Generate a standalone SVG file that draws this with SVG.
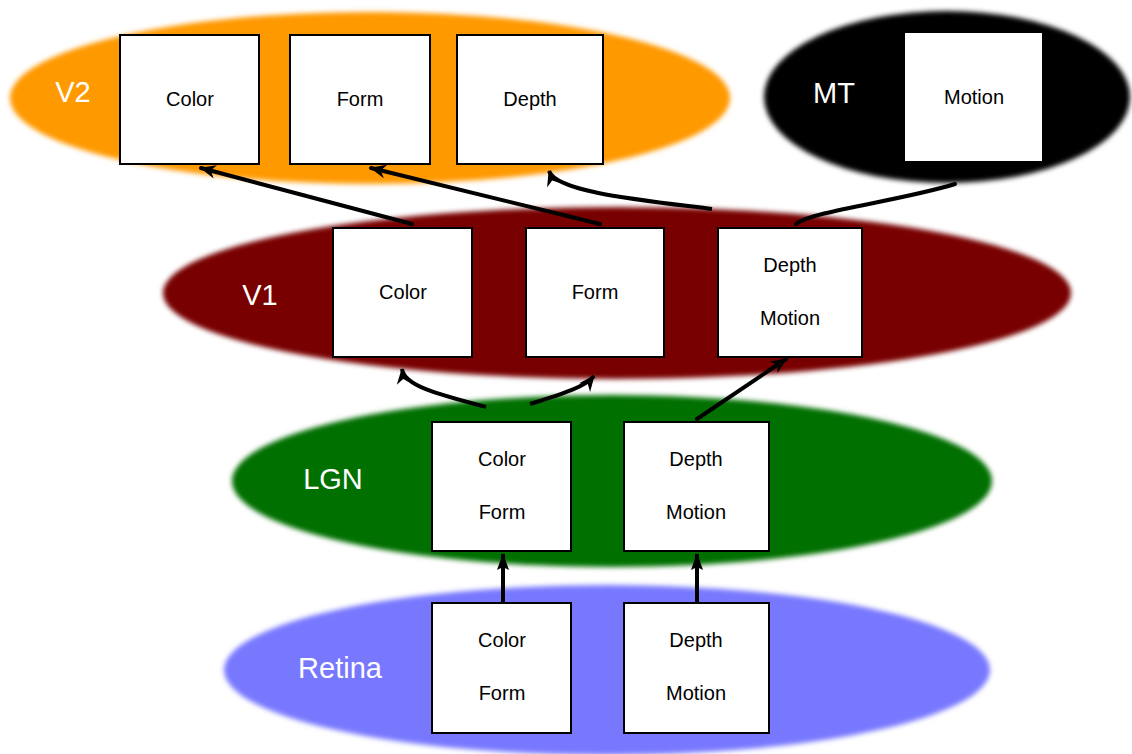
<svg xmlns="http://www.w3.org/2000/svg" width="1132" height="754" viewBox="0 0 1132 754">
<style>
.box{fill:#fff;stroke:#000;stroke-width:2}
.bt{font-family:"Liberation Sans",Arial,sans-serif;font-size:20px;fill:#000;text-anchor:middle}
.lbl{font-family:"Liberation Sans",Arial,sans-serif;font-size:29px;fill:#fff;text-anchor:middle}
.ln{fill:none;stroke:#000;stroke-width:4;stroke-linecap:round}
.ar{marker-end:url(#stealth)}
.af{marker-end:url(#tri)}
</style>
<defs>
<filter id="soft" x="-5%" y="-10%" width="110%" height="120%"><feGaussianBlur stdDeviation="2.5"/></filter>
<marker id="stealth" markerUnits="userSpaceOnUse" markerWidth="18" markerHeight="14" refX="15" refY="7" orient="auto"><path d="M0,0 L16,7 L0,14 L5,7 z" fill="#000"/></marker>
<marker id="tri" markerUnits="userSpaceOnUse" markerWidth="18" markerHeight="12" refX="16" refY="6" orient="auto"><path d="M0,0 L17,6 L0,12 L3,6 z" fill="#000"/></marker>
</defs>
<g id="area-v2"><ellipse cx="370" cy="98" rx="360" ry="86" fill="#ff9900" filter="url(#soft)"/><text class="lbl" x="73" y="102">V2</text></g>
<g id="area-mt"><ellipse cx="947" cy="97" rx="183" ry="86" fill="#000" filter="url(#soft)"/><text class="lbl" x="834" y="103">MT</text></g>
<g id="area-v1"><ellipse cx="617" cy="293" rx="454" ry="86" fill="#780000" filter="url(#soft)"/><text class="lbl" x="260" y="305">V1</text></g>
<g id="area-lgn"><ellipse cx="612" cy="481" rx="380" ry="86" fill="#007000" filter="url(#soft)"/><text class="lbl" x="333" y="489">LGN</text></g>
<g id="area-retina"><ellipse cx="607" cy="670" rx="383" ry="85" fill="#7878ff" filter="url(#soft)"/><text class="lbl" x="340" y="678">Retina</text></g>

<g id="v2-color"><rect class="box" x="120" y="35" width="139" height="129"/><text class="bt" x="190" y="106">Color</text></g>
<g id="v2-form"><rect class="box" x="290" y="35" width="140" height="129"/><text class="bt" x="360" y="106">Form</text></g>
<g id="v2-depth"><rect class="box" x="457" y="35" width="146" height="129"/><text class="bt" x="530" y="106">Depth</text></g>
<g id="mt-motion"><rect x="905" y="33" width="137" height="128" fill="#fff"/><text class="bt" x="974" y="104">Motion</text></g>
<g id="v1-color"><rect class="box" x="333" y="228" width="139" height="129"/><text class="bt" x="403" y="299">Color</text></g>
<g id="v1-form"><rect class="box" x="526" y="228" width="138" height="129"/><text class="bt" x="595" y="299">Form</text></g>
<g id="v1-depthmotion"><rect class="box" x="718" y="228" width="144" height="129"/><text class="bt" x="790" y="272">Depth</text><text class="bt" x="790" y="325">Motion</text></g>
<g id="lgn-colorform"><rect class="box" x="432" y="422" width="139" height="129"/><text class="bt" x="502" y="466">Color</text><text class="bt" x="502" y="519">Form</text></g>
<g id="lgn-depthmotion"><rect class="box" x="624" y="422" width="145" height="129"/><text class="bt" x="696" y="466">Depth</text><text class="bt" x="696" y="519">Motion</text></g>
<g id="retina-colorform"><rect class="box" x="432" y="603" width="139" height="130"/><text class="bt" x="502" y="647">Color</text><text class="bt" x="502" y="700">Form</text></g>
<g id="retina-depthmotion"><rect class="box" x="624" y="603" width="145" height="130"/><text class="bt" x="696" y="647">Depth</text><text class="bt" x="696" y="700">Motion</text></g>

<g id="connectors">
<path class="ln ar" d="M412,224 L201,168"/>
<path class="ln ar" d="M600,224 L371,168"/>
<path class="ln ar" d="M712,209 C640,200 556,192 549,171" style="stroke-linecap:butt"/>
<path class="ln" d="M796,224 C812,211 900,201 955,184"/>
<path class="ln ar" d="M486,407 C440,395 404,386 402,369" style="stroke-linecap:butt"/>
<path class="ln ar" d="M530,404 C566,393 586,386 594,376" style="stroke-linecap:butt"/>
<path class="ln ar" d="M697,419 L786,359"/>
<path class="ln af" d="M503,602 L503,554" style="stroke-linecap:butt"/>
<path class="ln af" d="M697,602 L697,554" style="stroke-linecap:butt"/>
</g>
</svg>
